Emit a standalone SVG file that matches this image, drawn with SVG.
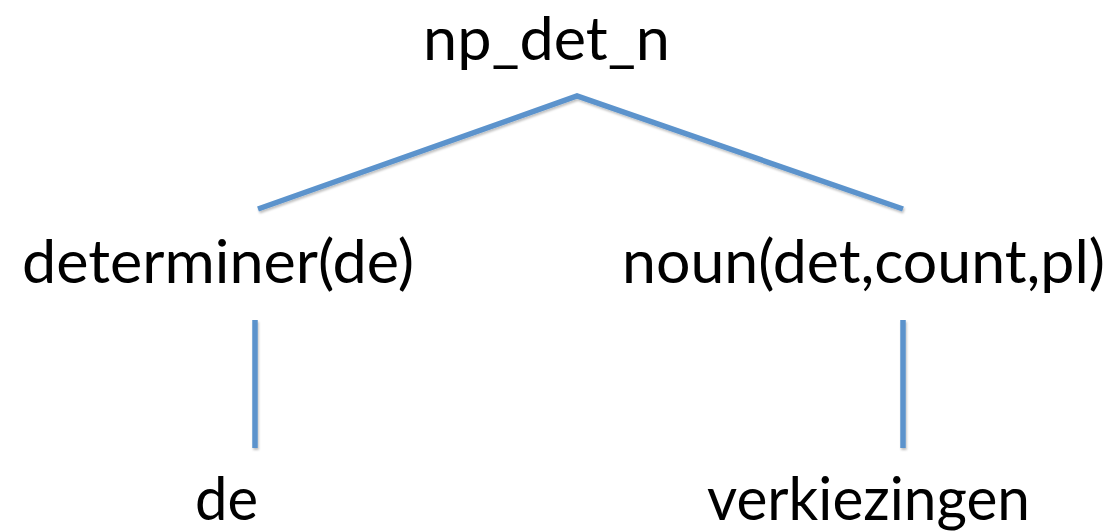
<svg xmlns="http://www.w3.org/2000/svg" width="1116" height="531" viewBox="0 0 1116 531">
  <defs>
    <filter id="soft" x="-10%" y="-10%" width="120%" height="130%">
      <feDropShadow dx="1" dy="2" stdDeviation="1.2" flood-color="#000" flood-opacity="0.25"/>
    </filter>
  </defs>
  <style>
    .label { font-family: Lato, "Open Sans", "Liberation Sans", sans-serif; font-size: 60px; fill: #000; }
    .edge { stroke: #5B93CC; stroke-width: 5.5; fill: none; stroke-linecap: butt; stroke-linejoin: miter; }
  </style>
  <rect width="1116" height="531" fill="#fff"/>

  <!-- tree edges -->
  <g id="connectors" filter="url(#soft)">
    <polyline class="edge" points="258,209 577,96 903,209"/>
    <line class="edge" x1="255" y1="320" x2="255" y2="448"/>
    <line class="edge" x1="903" y1="320" x2="903" y2="448"/>
  </g>

  <!-- tree nodes -->
  <g id="node-np_det_n">
    <text class="label" x="423" y="60" textLength="247" lengthAdjust="spacingAndGlyphs">np_det_n</text>
  </g>
  <g id="node-determiner">
    <text class="label" x="22" y="283" textLength="392" lengthAdjust="spacingAndGlyphs">determiner(de)</text>
  </g>
  <g id="node-noun">
    <text class="label" x="622" y="283" textLength="483" lengthAdjust="spacingAndGlyphs">noun(det,count,pl)</text>
  </g>
  <g id="node-de">
    <text class="label" x="195" y="520" textLength="63" lengthAdjust="spacingAndGlyphs">de</text>
  </g>
  <g id="node-verkiezingen">
    <text class="label" x="707" y="520" textLength="323" lengthAdjust="spacingAndGlyphs">verkiezingen</text>
  </g>
</svg>
